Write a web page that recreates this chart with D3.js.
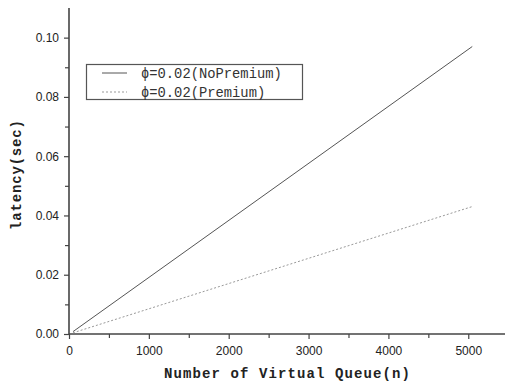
<!DOCTYPE html>
<html>
<head>
<meta charset="utf-8">
<script src="https://cdn.jsdelivr.net/npm/d3@7"></script>
<style>
  body { margin: 0; background: #fff; }
  .tick text { font-family: "Liberation Sans", Arial, sans-serif; font-size: 12px; fill: #222; }
</style>
</head>
<body>
<div id="chart"></div>
<script>
// values
var queueSizes = [50, 5050];
var noPremium = [0.0008, 0.097];
var premium = [0.0004, 0.043];
var seriesNames = ['\u03d5=0.02(NoPremium)', '\u03d5=0.02(Premium)'];
var xTicks = [0, 1000, 2000, 3000, 4000, 5000];
var yTicks = [0, 0.02, 0.04, 0.06, 0.08, 0.10];

var width = 506, height = 385;
var margin = {top: 8, right: 1, bottom: 51, left: 69};

var svg = d3.select('#chart').append('svg')
  .attr('width', width)
  .attr('height', height);

var x = d3.scaleLinear().domain([0, 5460]).range([margin.left, width - margin.right]);
var y = d3.scaleLinear().domain([0, 0.11]).range([height - margin.bottom, margin.top]);

var axisColor = '#444';

// minor ticks
var xAxisMinor = d3.axisBottom(x).tickValues(d3.range(500, 5460, 1000)).tickSize(4).tickFormat('');
var yAxisMinor = d3.axisLeft(y).tickValues(d3.range(0.01, 0.11, 0.02)).tickSize(4).tickFormat('');

svg.append('g')
  .attr('transform', 'translate(0,' + y(0) + ')')
  .call(xAxisMinor)
  .call(function(g) { g.select('.domain').remove(); g.selectAll('line').attr('stroke', axisColor).attr('stroke-width', 1.2); });

svg.append('g')
  .attr('transform', 'translate(' + x(0) + ',0)')
  .call(yAxisMinor)
  .call(function(g) { g.select('.domain').remove(); g.selectAll('line').attr('stroke', axisColor).attr('stroke-width', 1.2); });

var xAxis = d3.axisBottom(x).tickValues(xTicks).tickSize(5).tickPadding(7).tickFormat(d3.format('d'));
var yAxis = d3.axisLeft(y).tickValues(yTicks).tickSize(5).tickPadding(5).tickFormat(d3.format('.2f'));

svg.append('g')
  .attr('transform', 'translate(0,' + y(0) + ')')
  .call(xAxis)
  .call(function(g) {
    g.select('.domain').attr('stroke', axisColor).attr('stroke-width', 1.6).attr('d', 'M' + margin.left + ',0H' + (width - margin.right));
    g.selectAll('line').attr('stroke', axisColor).attr('stroke-width', 1.2);
  });

svg.append('g')
  .attr('transform', 'translate(' + x(0) + ',0)')
  .call(yAxis)
  .call(function(g) {
    g.select('.domain').attr('stroke', axisColor).attr('stroke-width', 1.6).attr('d', 'M0,' + margin.top + 'V' + y(0));
    g.selectAll('line').attr('stroke', axisColor).attr('stroke-width', 1.2);
  });

// lines
var line = d3.line()
  .x(function(d) { return x(d[0]); })
  .y(function(d) { return y(d[1]); });

svg.append('path')
  .datum(d3.zip(queueSizes, noPremium))
  .attr('fill', 'none')
  .attr('stroke', '#555')
  .attr('stroke-width', 1)
  .attr('d', line);

svg.append('path')
  .datum(d3.zip(queueSizes, premium))
  .attr('fill', 'none')
  .attr('stroke', '#999')
  .attr('stroke-width', 1)
  .attr('stroke-dasharray', '2,2')
  .attr('d', line);

// axis titles
svg.append('text')
  .attr('x', 287)
  .attr('y', 378)
  .attr('text-anchor', 'middle')
  .attr('font-family', '"Liberation Mono", "Courier New", monospace')
  .attr('font-weight', 'bold')
  .attr('font-size', 14)
  .attr('textLength', 246)
  .attr('fill', '#222')
  .text('Number of Virtual Queue(n)');

svg.append('text')
  .attr('transform', 'translate(21,175) rotate(-90)')
  .attr('text-anchor', 'middle')
  .attr('font-family', '"Liberation Mono", "Courier New", monospace')
  .attr('font-weight', 'bold')
  .attr('font-size', 14)
  .attr('textLength', 110)
  .attr('fill', '#222')
  .text('latency(sec)');

// legend
var legend = svg.append('g');
legend.append('rect')
  .attr('x', 86.5).attr('y', 64.5)
  .attr('width', 216).attr('height', 35)
  .attr('fill', '#fff')
  .attr('stroke', '#555')
  .attr('stroke-width', 1.2);

var legendRows = legend.selectAll('g.row')
  .data(seriesNames)
  .enter().append('g')
  .attr('class', 'row')
  .attr('transform', function(d, i) { return 'translate(0,' + (73 + i * 19) + ')'; });

legendRows.append('line')
  .attr('x1', 102).attr('x2', 127)
  .attr('stroke', function(d, i) { return i === 0 ? '#555' : '#999'; })
  .attr('stroke-dasharray', function(d, i) { return i === 0 ? null : '2,2'; });

legendRows.append('text')
  .attr('x', 141)
  .attr('dy', '0.35em')
  .attr('font-family', '"Liberation Mono", "Courier New", monospace')
  .attr('font-size', 13.8)
  .attr('fill', '#333')
  .text(function(d) { return d; });
</script>
</body>
</html>
